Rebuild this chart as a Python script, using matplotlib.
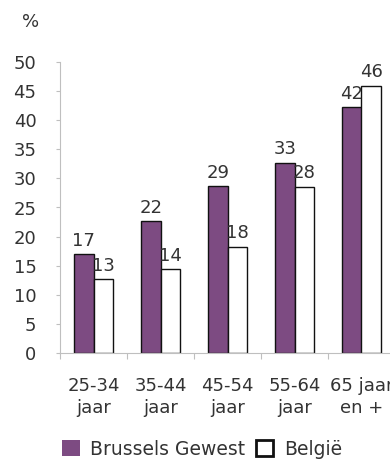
import numpy as np
import matplotlib
matplotlib.use("Agg")
import matplotlib.pyplot as plt
from matplotlib.patches import Patch

# Data
categories = ["25-34\njaar", "35-44\njaar", "45-54\njaar", "55-64\njaar", "65 jaar\nen +"]
brussels = [17.0, 22.6, 28.7, 32.7, 42.2]
belgie = [12.7, 14.4, 18.3, 28.6, 45.9]
brussels_labels = ["17", "22", "29", "33", "42"]
belgie_labels = ["13", "14", "18", "28", "46"]
yticks = [0, 5, 10, 15, 20, 25, 30, 35, 40, 45, 50]

purple = "#7d4b82"
text_col = "#333333"
axis_col = "#bfbfbf"

plt.rcParams['font.family'] = ['DejaVu Sans']

fig = plt.figure(figsize=(3.9, 4.61), dpi=100)
ax = fig.add_axes([60 / 390, 107.7 / 461, 335 / 390, 291.6 / 461])

x = np.arange(len(categories))
w = 0.29
b1 = ax.bar(x - w / 2, brussels, w, color=purple, edgecolor="#111111", linewidth=1)
b2 = ax.bar(x + w / 2, belgie, w, color="white", edgecolor="#111111", linewidth=1)

for rect, lab in zip(b1, brussels_labels):
    ax.annotate(lab, (rect.get_x() + rect.get_width() / 2, rect.get_height()),
                xytext=(0, 3), textcoords="offset points", ha="center", va="bottom",
                fontsize=13, color=text_col)
for rect, lab in zip(b2, belgie_labels):
    ax.annotate(lab, (rect.get_x() + rect.get_width() / 2, rect.get_height()),
                xytext=(0, 3), textcoords="offset points", ha="center", va="bottom",
                fontsize=13, color=text_col)

ax.set_xlim(-0.5, len(categories) - 0.5)
ax.set_ylim(0, 50)
ax.set_yticks(yticks)
ax.tick_params(axis="y", labelsize=13, labelcolor=text_col, color=axis_col,
               length=3, pad=14)

# ticks at category boundaries, labels at centres
ax.set_xticks(np.arange(len(categories) + 1) - 0.5)
ax.set_xticklabels([])
ax.set_xticks(x, minor=True)
ax.set_xticklabels(categories, minor=True, fontsize=13, color=text_col, linespacing=1.3)
ax.tick_params(axis="x", which="major", length=4, color=axis_col)
ax.tick_params(axis="x", which="minor", length=0, pad=17)

for s in ["top", "right"]:
    ax.spines[s].set_visible(False)
ax.spines["left"].set_color(axis_col)
ax.spines["bottom"].set_color(axis_col)

fig.text(31 / 390, 1 - 22 / 461, "%", fontsize=13, color=text_col, ha="center", va="center")

handles = [Patch(facecolor=purple, edgecolor="none"),
           Patch(facecolor="white", edgecolor="#111111", linewidth=2)]
fig.legend(handles, ["Brussels Gewest", "België"], loc="center left",
           bbox_to_anchor=(62 / 390, 1 - 449 / 461), ncol=2, frameon=False,
           fontsize=13.5, handlelength=0.95, handleheight=0.95,
           handletextpad=0.55, columnspacing=0.55, labelcolor=text_col,
           borderpad=0, borderaxespad=0)

fig.savefig("out.png", dpi=100)
